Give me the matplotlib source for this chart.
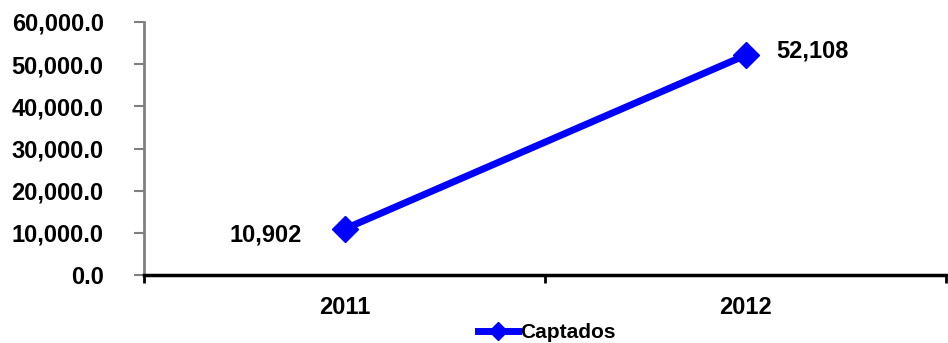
import matplotlib
matplotlib.use("Agg")
import matplotlib.pyplot as plt
from matplotlib.ticker import FuncFormatter

plt.rcParams['font.family'] = ['Liberation Sans', 'DejaVu Sans']
plt.rcParams['font.weight'] = 'bold'

years = ["2011", "2012"]
captados = [10902, 52108]
series_name = "Captados"

fig = plt.figure(figsize=(9.48, 3.43), dpi=100)
ax = fig.add_axes([144 / 948, 68 / 343, 802 / 948, 253 / 343])

x = list(range(len(years)))
line, = ax.plot(x, captados, color="#0000FF", linewidth=5, marker="D",
                markersize=13, label=series_name)

ax.set_xlim(-0.5, len(years) - 0.5)
ax.set_ylim(0, 60000)
ax.set_yticks(range(0, 60001, 10000))
ax.yaxis.set_major_formatter(FuncFormatter(lambda v, p: f"{v:,.1f}"))

# category labels centred between boundary ticks
ax.set_xticks([i - 0.5 for i in range(len(years) + 1)])
ax.set_xticklabels([])
ax.set_xticks(x, minor=True)
ax.set_xticklabels(years, minor=True)
ax.tick_params(axis="x", which="major", length=6, width=2, color="black", direction="out")
ax.tick_params(axis="x", which="minor", length=0, pad=15, labelsize=17)
ax.tick_params(axis="y", length=7, width=1.5, color="#808080", pad=22, labelsize=17)

for side in ("top", "right"):
    ax.spines[side].set_visible(False)
ax.spines["left"].set_color("#808080")
ax.spines["left"].set_linewidth(2)
ax.spines["bottom"].set_color("black")
ax.spines["bottom"].set_linewidth(2.5)

# value labels
ax.annotate(f"{captados[0]:,}", (x[0], captados[0]), xytext=(-57, -4),
            textcoords="offset points", ha="center", va="center", fontsize=17,
            fontweight="bold")
ax.annotate(f"{captados[1]:,}", (x[1], captados[1]), xytext=(22, 3),
            textcoords="offset points", ha="left", va="center", fontsize=17,
            fontweight="bold")

fig.legend(handles=[line], loc="center", bbox_to_anchor=(547 / 948, 1 - 333 / 343),
           frameon=False, fontsize=15, handlelength=1.9, handletextpad=0.1,
           markerscale=0.7)

fig.savefig("out.png", dpi=100)
